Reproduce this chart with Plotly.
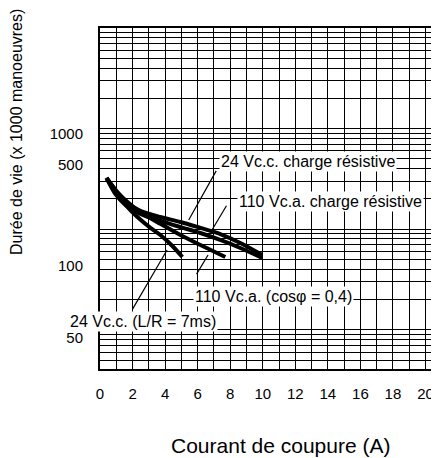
import math
import plotly.graph_objects as go

# ---- data (y in the grid's log scale) ----
x_lr = [0.40, 1.07, 1.69, 2.30, 3.10, 3.71, 4.45, 5.06]
y_lr = [323, 229, 166, 132, 103, 87.5, 68.0, 52.9]

x_cos = [0.40, 1.07, 1.69, 2.48, 3.71, 4.94, 6.17, 7.70]
y_cos = [323, 234, 186, 148, 113, 87.5, 69.6, 52.9]

x_24res = [0.40, 0.94, 1.56, 2.48, 3.71, 4.94, 6.17, 7.39, 8.62, 9.97]
y_24res = [323, 234, 186, 152, 132, 118, 103, 89.5, 72.9, 55.4]

x_110res = [0.40, 0.94, 1.56, 2.48, 3.71, 4.94, 6.17, 7.39, 8.62, 9.97]
y_110res = [323, 224, 174, 142, 121, 105, 91.6, 78.1, 65.0, 51.8]

x_tick_vals = list(range(0, 21, 2))
x_tick_text = [str(v) for v in x_tick_vals]

y_tick_text = ["50", "100", "500", "1000"]
y_tick_vals = [8.4, 43.4, 433, 898]

grid_y = [k * 10 ** e for e in range(0, 4) for k in range(1, 10)] + [10000]
grid_y = [g for g in grid_y if g >= 4.1]

labels = ["24 Vc.c. charge résistive", "110 Vc.a. charge résistive",
          "110 Vc.a. (cosφ = 0,4)", "24 Vc.c. (L/R = 7ms)"]
label_x = [12.76, 14.16, 10.66, 2.64]
label_y = [476, 187.6, 21.3, 12.04]

pointer_x = [5.45, 6.88, 6.64, 4.12]
pointer_y = [123.4, 98.2, 55.4, 62.1]
pointer_ax = [28, 15, -12, -35]
pointer_ay = [-50, -25, 20, 60]

FONT = "Liberation Sans, Arial, Helvetica, sans-serif"

fig = go.Figure()
for xs, ys in [(x_lr, y_lr), (x_cos, y_cos), (x_24res, y_24res), (x_110res, y_110res)]:
    fig.add_trace(go.Scatter(x=xs, y=ys, mode="lines",
                             line=dict(color="black", width=4, shape="spline", smoothing=0.8),
                             showlegend=False, hoverinfo="skip"))

annotations = []
for t, x, y in zip(labels, label_x, label_y):
    annotations.append(dict(x=x, y=math.log10(y), xref="x", yref="y", text=t, showarrow=False,
                            font=dict(size=16, color="black", family=FONT),
                            bgcolor="white", borderpad=1,
                            xanchor="center", yanchor="middle"))
for x, y, ax, ay in zip(pointer_x, pointer_y, pointer_ax, pointer_ay):
    annotations.append(dict(x=x, y=math.log10(y), xref="x", yref="y", text=" ",
                            font=dict(size=1), showarrow=True, arrowhead=0,
                            arrowwidth=1.2, arrowcolor="black", ax=ax, ay=ay,
                            standoff=0, startstandoff=0, borderpad=0))

annotations.append(dict(x=-0.2478, y=0.695, xref="paper", yref="paper",
                        text="Durée de vie (x 1000 manoeuvres)", textangle=-90,
                        showarrow=False, font=dict(size=16, color="black", family=FONT),
                        xanchor="center", yanchor="middle"))
annotations.append(dict(x=0.531, y=-0.2229, xref="paper", yref="paper",
                        text="Courant de coupure (A)",
                        showarrow=False, font=dict(size=21, color="black", family=FONT),
                        xanchor="center", yanchor="middle"))

fig.update_layout(
    width=431, height=450,
    margin=dict(l=92, r=0, t=20, b=89, autoexpand=False),
    paper_bgcolor="white", plot_bgcolor="white",
    font=dict(family=FONT, color="black", size=15),
    annotations=annotations,
    xaxis=dict(range=[0, 20.83], tickmode="array", tickvals=x_tick_vals, ticktext=x_tick_text,
               showgrid=True, gridcolor="black", gridwidth=1.2, automargin=False,
               minor=dict(dtick=1, tick0=0, showgrid=True, gridcolor="black", gridwidth=1.2),
               showline=True, linecolor="black", linewidth=2, mirror=True,
               ticks="", ticklabelstandoff=10, zeroline=False,
               tickfont=dict(size=15)),
    yaxis=dict(type="log", range=[0.61, 4.0], tickmode="array",
               tickvals=y_tick_vals, ticktext=y_tick_text,
               showgrid=False, automargin=False,
               minor=dict(tickmode="array", tickvals=grid_y, showgrid=True,
                          gridcolor="black", gridwidth=1.2),
               showline=True, linecolor="black", linewidth=2, mirror=True,
               ticks="", ticklabelstandoff=12, zeroline=False,
               tickfont=dict(size=15)),
)

fig.write_html("out.html")
